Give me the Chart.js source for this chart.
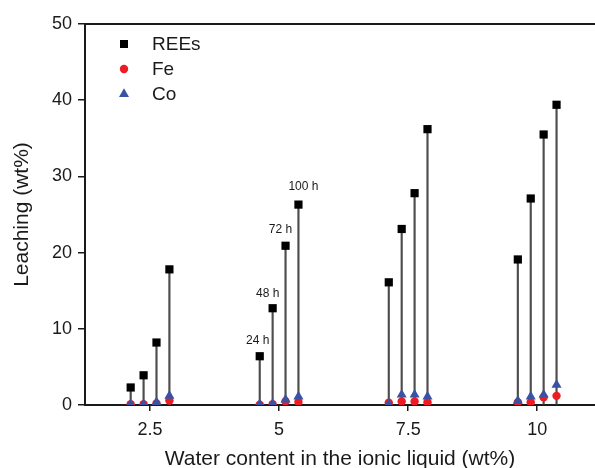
<!DOCTYPE html>
<html>
<head>
<meta charset="utf-8">
<script src="https://cdn.jsdelivr.net/npm/chart.js@4/dist/chart.umd.min.js"></script>
<style>
	html, body { margin:0; padding:0; background:#fff; }
</style>
</head>
<body>
<canvas id="chart" width="595" height="468"></canvas>
<script>
// water content groups (wt%), one stem per leaching time inside each group
var waterContent = [2.5, 5, 7.5, 10];
var hours = ['24 h', '48 h', '72 h', '100 h'];

// leaching (wt%), read group by group: 2.5 | 5 | 7.5 | 10, each 24/48/72/100 h
var reeLeaching = [2.3, 3.9, 8.2, 17.8,   6.4, 12.7, 20.9, 26.3,   16.1, 23.1, 27.8, 36.2,   19.1, 27.1, 35.5, 39.4];
var feLeaching  = [0.1, 0.1, 0.2, 0.6,    0.05, 0.1, 0.45, 0.4,    0.3, 0.45, 0.45, 0.35,    0.35, 0.35, 1.0, 1.2];
var coLeaching  = [0.1, 0.1, 0.35, 1.2,   0.1, 0.15, 0.7, 1.1,     0.15, 1.35, 1.35, 1.1,    0.55, 1.1, 1.35, 2.65];

var yTicks = [0, 10, 20, 30, 40, 50];
var xTicks = waterContent;

var STEP = 0.25; // spacing between stems of one group, in wt%
var FONT = 'Liberation Sans, Arial, sans-serif';
var INK = '#1a1a1a';

// x of each stem: group value, spread out by time
var toPoints = function( values ){
	var list = [], i, j;
	for( i=0; i<waterContent.length; i++ ){
		for( j=0; j<hours.length; j++ ){
			list.push({ x : waterContent[i] + (j - (hours.length-1)/2) * STEP, y : values[i*hours.length + j] });
		}
	}
	return list;
};

// top frame line (the right side is cut off in the original)
var topLine = {
	id : 'topLine',
	afterDraw : function( chart ){
		var ctx = chart.ctx, a = chart.chartArea;
		ctx.save();
		ctx.strokeStyle = INK;
		ctx.lineWidth = 2;
		ctx.beginPath();
		ctx.moveTo(a.left - 1, a.top);
		ctx.lineTo(a.right, a.top);
		ctx.stroke();
		ctx.restore();
	}
};

// "24 h" ... "100 h" above the 5 wt% group
var timeLabels = {
	id : 'timeLabels',
	afterDatasetsDraw : function( chart ){
		var ctx = chart.ctx;
		var meta = chart.getDatasetMeta(1);
		var first = waterContent.indexOf(5) * hours.length;
		var dx = [-2, -5, -5, 5], dy = [16, 15, 16, 18];
		ctx.save();
		ctx.font = '12px ' + FONT;
		ctx.fillStyle = INK;
		ctx.textAlign = 'center';
		ctx.textBaseline = 'middle';
		hours.forEach(function( h, j ){
			var p = meta.data[first + j];
			ctx.fillText(h, p.x + dx[j], p.y - dy[j]);
		});
		ctx.restore();
	}
};

// legend in the upper left corner of the plot
var cornerLegend = {
	id : 'cornerLegend',
	afterDraw : function( chart ){
		var ctx = chart.ctx, a = chart.chartArea;
		var x = a.left + 39, y = a.top + 20, gap = 25;
		ctx.save();
		chart.data.datasets.forEach(function( ds ){
			if( !ds.legendText ) return;
			ctx.fillStyle = ds.backgroundColor;
			ctx.beginPath();
			if( ds.pointStyle === 'rect' ){
				ctx.rect(x - 4, y - 4, 8, 8);
			}else if( ds.pointStyle === 'circle' ){
				ctx.arc(x, y, 4.2, 0, Math.PI*2);
			}else{
				ctx.moveTo(x, y - 5.8);
				ctx.lineTo(x + 5, y + 2.9);
				ctx.lineTo(x - 5, y + 2.9);
				ctx.closePath();
			}
			ctx.fill();
			ctx.fillStyle = INK;
			ctx.font = '19px ' + FONT;
			ctx.textAlign = 'left';
			ctx.textBaseline = 'middle';
			ctx.fillText(ds.legendText, x + 28, y + 1);
			y += gap;
		});
		ctx.restore();
	}
};

window.onload = function(){
	var ctx = document.getElementById('chart').getContext('2d');
	new Chart(ctx, {
		type : 'scatter',
		data : {
			datasets : [
				{
					type : 'bar',
					data : toPoints(reeLeaching),
					backgroundColor : '#4d4d4d',
					borderWidth : 0,
					barThickness : 1.5,
					order : 4
				},
				{
					label : 'REEs', legendText : 'REEs',
					data : toPoints(reeLeaching),
					pointStyle : 'rect', pointRadius : 5.8,
					backgroundColor : '#000000', borderColor : '#000000', borderWidth : 0,
					order : 0
				},
				{
					label : 'Fe', legendText : 'Fe',
					data : toPoints(feLeaching),
					pointStyle : 'circle', pointRadius : 4.2,
					backgroundColor : '#ec1c24', borderColor : '#ec1c24', borderWidth : 0,
					order : 2
				},
				{
					label : 'Co', legendText : 'Co',
					data : toPoints(coLeaching),
					pointStyle : 'triangle', pointRadius : 5.8,
					backgroundColor : '#3a52a3', borderColor : '#3a52a3', borderWidth : 0,
					order : 1
				}
			]
		},
		options : {
			responsive : false,
			animation : false,
			layout : { autoPadding : false, padding : { top : 24, right : 0, bottom : 0, left : 0 } },
			plugins : {
				legend : { display : false },
				tooltip : { enabled : false }
			},
			scales : {
				x : {
					type : 'linear',
					min : 1.24, max : 11.12,
					offset : false,
					afterBuildTicks : function( scale ){
						scale.ticks = xTicks.map(function( v ){ return { value : v }; });
					},
					afterFit : function( scale ){ scale.height = 63; },
					border : { color : INK, width : 2 },
					grid : { offset : false, drawOnChartArea : false, drawTicks : true, tickLength : 6, color : INK, lineWidth : 1.5 },
					ticks : { color : INK, font : { family : FONT, size : 18 }, padding : 8, maxRotation : 0 },
					title : {
						display : true,
						text : 'Water content in the ionic liquid (wt%)',
						color : INK,
						font : { family : FONT, size : 21, lineHeight : 1 },
						padding : { top : 0, bottom : -2 }
					}
				},
				y : {
					min : 0, max : 50,
					afterBuildTicks : function( scale ){
						scale.ticks = yTicks.map(function( v ){ return { value : v }; });
					},
					afterFit : function( scale ){ scale.width = 85; },
					border : { color : INK, width : 2 },
					grid : { drawOnChartArea : false, drawTicks : true, tickLength : 7, color : INK, lineWidth : 1.5 },
					ticks : { color : INK, font : { family : FONT, size : 18 }, padding : 6 },
					title : {
						display : true,
						text : 'Leaching (wt%)',
						color : INK,
						font : { family : FONT, size : 21, lineHeight : 1 },
						padding : { top : 12, bottom : 0 }
					}
				}
			}
		},
		plugins : [ topLine, timeLabels, cornerLegend ]
	});
};
</script>
</body>
</html>
